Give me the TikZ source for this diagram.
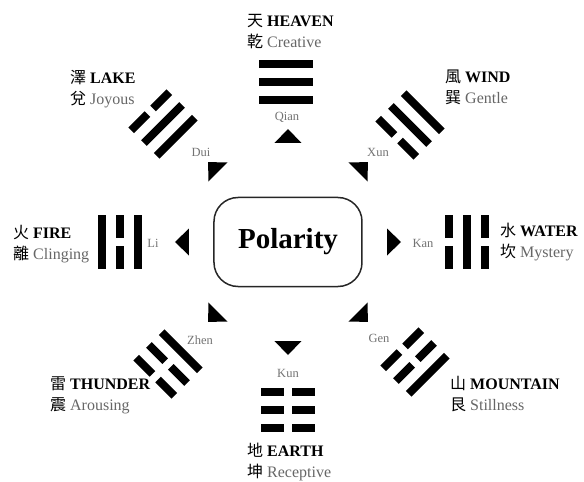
\documentclass[tikz,border=0pt]{standalone}
\usepackage{fontspec}
\setmainfont{Liberation Serif}
\newfontfamily\cjk{Noto Sans CJK TC}

\tikzset{
	yao/.style={fill=black},
	arrowhead/.style={fill=black},
	pinyin/.style={font=\fontsize{12.5}{14}\selectfont, text=black!55, inner sep=0pt},
	guabox/.style={font=\fontsize{16}{21}\selectfont, align=left, anchor=west, inner sep=0pt},
	polarity/.style={draw=black!85, line width=1.5pt, rounded corners=24pt, minimum width=148pt, minimum height=89pt, font=\fontsize{29}{34}\selectfont\bfseries}
}

% one line of a trigram at local height #1, solid (1) or broken (0)
\newcommand{\yaoline}[2]{%
	\ifnum#2=1
		\fill[yao] (-27,#1-4) rectangle (27,#1+4);
	\else
		\fill[yao] (-27,#1-4) rectangle (-4,#1+4);
		\fill[yao] (4,#1-4) rectangle (27,#1+4);
	\fi}

\begin{document}
\begin{tikzpicture}[x=1pt, y=1pt]
	\useasboundingbox (-288,-240) rectangle (296,242);

	\node[polarity] (polarity) at (0,0) {Polarity};

	% trigrams: x/y/rotation/inner/middle/outer line
	\foreach \px/\py/\rot/\a/\b/\c in {-2/160/0/1/1/1, -125/118/45/1/1/0, -168/0/90/1/0/1, -120/-122/135/1/0/0, 0/-168/180/0/0/0, 127/-120/225/0/0/1, 179/0/270/0/1/0, 122/117/315/0/1/1}{
		\begin{scope}[shift={(\px,\py)}, rotate=\rot]
			\yaoline{-18}{\a} \yaoline{0}{\b} \yaoline{18}{\c}
		\end{scope}
	}

	\foreach \ang in {0,45,...,315}
		\fill[arrowhead, rotate=\ang] (113,0) -- (99,13.5) -- (99,-13.5) -- cycle;

	\foreach \name/\px/\py in {Qian/-1/125, Dui/-87/90, Li/-135/-1, Zhen/-88/-98, Kun/0/-131, Gen/91/-96, Kan/135/-1, Xun/90/90}
		\node[pinyin] (\name) at (\px,\py) {\name};

	\foreach \id/\px/\py/\han/\eng/\gua/\gloss in {heaven/-41/210/天/HEAVEN/乾/Creative, lake/-218/153/澤/LAKE/兌/Joyous, wind/157/155/風/WIND/巽/Gentle, fire/-275/-2/火/FIRE/離/Clinging, water/212/0/水/WATER/坎/Mystery, thunder/-238/-153/雷/THUNDER/震/Arousing, mountain/162/-152/山/MOUNTAIN/艮/Stillness, earth/-41/-220/地/EARTH/坤/Receptive}
		\node[guabox] (\id) at (\px,\py) {{\cjk\han}~\textbf{\eng}\\{\cjk\gua}~\textcolor{black!60}{\gloss}};
\end{tikzpicture}
\end{document}
